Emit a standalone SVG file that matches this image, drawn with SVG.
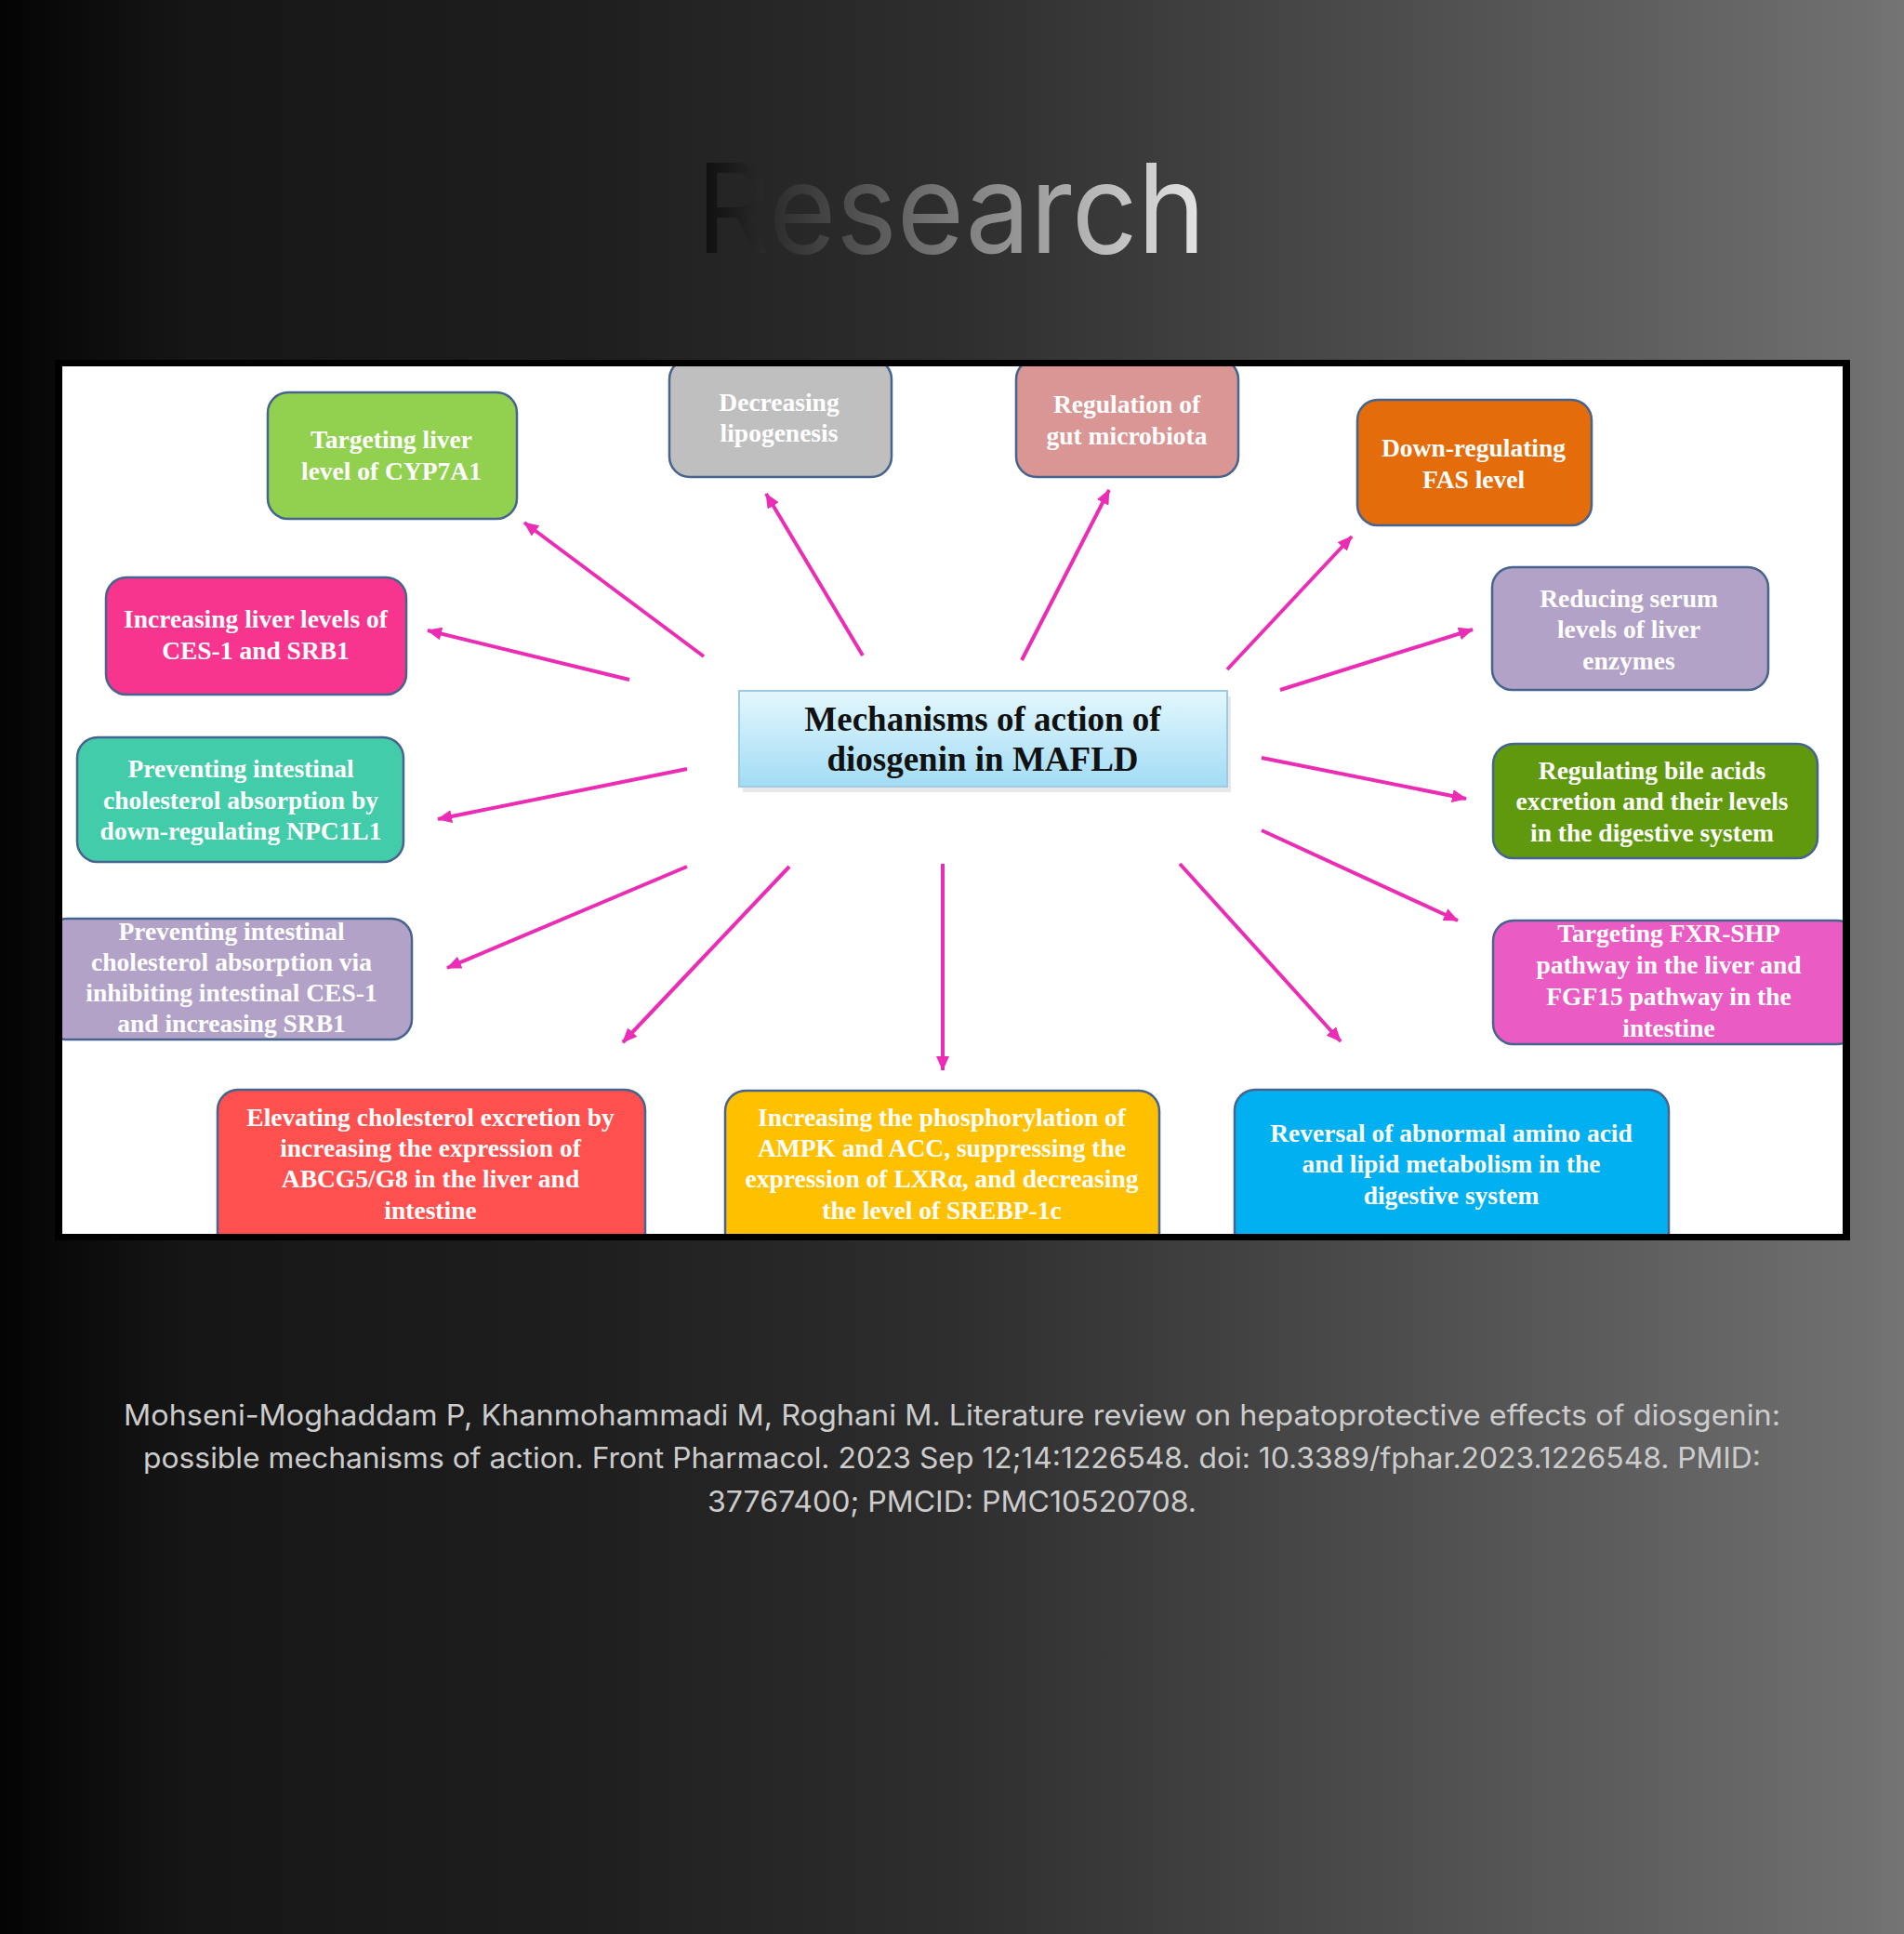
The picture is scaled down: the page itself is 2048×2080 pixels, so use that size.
<svg xmlns="http://www.w3.org/2000/svg" width="2048" height="2080" viewBox="0 0 2048 2080">
<defs>
<linearGradient id="bg" x1="0" y1="0" x2="1" y2="0">
<stop offset="0" stop-color="#040404"/>
<stop offset="0.1" stop-color="#161616"/>
<stop offset="0.3" stop-color="#1e1e1e"/>
<stop offset="0.5" stop-color="#2e2e2e"/>
<stop offset="0.75" stop-color="#4f4f4f"/>
<stop offset="0.97" stop-color="#6e6e6e"/>
<stop offset="1" stop-color="#747474"/>
</linearGradient>
<linearGradient id="title" x1="749" y1="0" x2="1297" y2="0" gradientUnits="userSpaceOnUse">
<stop offset="0" stop-color="#0c0c0c"/>
<stop offset="0.5" stop-color="#7a7a7a"/>
<stop offset="1" stop-color="#e6e6e6"/>
</linearGradient>
<linearGradient id="center" x1="0" y1="0" x2="0" y2="1">
<stop offset="0" stop-color="#E3F7FD"/>
<stop offset="1" stop-color="#A2DCF4"/>
</linearGradient>
<clipPath id="panel"><rect x="67" y="394" width="1915" height="933"/></clipPath>
<marker id="ah" markerUnits="userSpaceOnUse" markerWidth="18" markerHeight="14" refX="15" refY="7" orient="auto">
<path d="M0,0 L16,7 L0,14 Z" fill="#EB2DB5"/>
</marker>
</defs>
<style>
.box{stroke:#46648E;stroke-width:2.5}
.t{font-family:"Liberation Serif","Times New Roman",serif;font-weight:bold;font-size:27.5px;fill:#ffffff;text-anchor:middle}
.c{font-family:"Liberation Serif","Times New Roman",serif;font-weight:bold;font-size:37px;fill:#111111;text-anchor:middle}
.arr{stroke:#EB2DB5;stroke-width:4;fill:none;marker-end:url(#ah)}
.cite{font-family:Inter,"Liberation Sans",sans-serif;font-size:31px;fill:#cccccc;text-anchor:middle}
</style>
<rect x="0" y="0" width="2048" height="2080" fill="url(#bg)"/>
<text x="1023" y="272" font-family="Inter,'Liberation Sans',sans-serif" font-size="133" text-anchor="middle" textLength="548" lengthAdjust="spacingAndGlyphs" fill="url(#title)">Research</text>

<rect x="59" y="387" width="1931" height="947" fill="#000000"/>
<rect x="67" y="394" width="1915" height="933" fill="#ffffff"/>

<g clip-path="url(#panel)">
<g id="connectors">
<line class="arr" x1="757" y1="706" x2="564" y2="562"/>
<line class="arr" x1="677" y1="731" x2="460" y2="678"/>
<line class="arr" x1="928" y1="705" x2="824" y2="531"/>
<line class="arr" x1="1099" y1="710" x2="1193" y2="527"/>
<line class="arr" x1="1320" y1="720" x2="1454" y2="577"/>
<line class="arr" x1="1377" y1="742" x2="1584" y2="677"/>
<line class="arr" x1="1357" y1="815" x2="1577" y2="859"/>
<line class="arr" x1="1357" y1="893" x2="1568" y2="990"/>
<line class="arr" x1="1269" y1="929" x2="1442" y2="1120"/>
<line class="arr" x1="1014" y1="929" x2="1014" y2="1151"/>
<line class="arr" x1="849" y1="932" x2="670" y2="1121"/>
<line class="arr" x1="739" y1="932" x2="481" y2="1041"/>
<line class="arr" x1="739" y1="827" x2="471" y2="881"/>
</g>

<g id="node-center">
<rect x="799" y="749" width="525" height="103" fill="#d8d8d8" opacity="0.6"/>
<rect x="795" y="743" width="525" height="103" fill="url(#center)" stroke="#9CCBE2" stroke-width="2"/>
<text class="c" x="1057" y="786">Mechanisms of action of</text>
<text class="c" x="1057" y="829">diosgenin in MAFLD</text>
</g>

<g id="node-cyp7a1">
<rect class="box" x="288" y="422" width="268" height="136" rx="22" fill="#92D050"/>
<text class="t" x="421" y="482">Targeting liver</text>
<text class="t" x="421" y="516">level of CYP7A1</text>
</g>

<g id="node-ces1-srb1">
<rect class="box" x="114" y="621" width="323" height="126" rx="22" fill="#F7358F"/>
<text class="t" x="275" y="675">Increasing liver levels of</text>
<text class="t" x="275" y="709">CES-1 and SRB1</text>
</g>

<g id="node-lipogenesis">
<rect class="box" x="720" y="386" width="239" height="127" rx="22" fill="#BFBFBF"/>
<text class="t" x="838" y="442">Decreasing</text>
<text class="t" x="838" y="475">lipogenesis</text>
</g>

<g id="node-microbiota">
<rect class="box" x="1093" y="386" width="239" height="127" rx="22" fill="#D99694"/>
<text class="t" x="1212" y="444">Regulation of</text>
<text class="t" x="1212" y="478">gut microbiota</text>
</g>

<g id="node-fas">
<rect class="box" x="1460" y="430" width="252" height="135" rx="22" fill="#E46C0A"/>
<text class="t" x="1585" y="491">Down-regulating</text>
<text class="t" x="1585" y="525">FAS level</text>
</g>

<g id="node-enzymes">
<rect class="box" x="1605" y="610" width="297" height="132" rx="22" fill="#B3A2C7"/>
<text class="t" x="1752" y="653">Reducing serum</text>
<text class="t" x="1752" y="686">levels of liver</text>
<text class="t" x="1752" y="720">enzymes</text>
</g>

<g id="node-npc1l1">
<rect class="box" x="83" y="793" width="351" height="134" rx="22" fill="#43CCA9"/>
<text class="t" x="259" y="836">Preventing intestinal</text>
<text class="t" x="259" y="870">cholesterol absorption  by</text>
<text class="t" x="259" y="903">down-regulating  NPC1L1</text>
</g>

<g id="node-ces1-intestinal">
<rect class="box" x="50" y="988" width="393" height="130" rx="22" fill="#B3A2C7"/>
<text class="t" x="249" y="1011">Preventing  intestinal</text>
<text class="t" x="249" y="1044">cholesterol absorption  via</text>
<text class="t" x="249" y="1077">inhibiting  intestinal CES-1</text>
<text class="t" x="249" y="1110">and increasing SRB1</text>
</g>

<g id="node-bile">
<rect class="box" x="1606" y="800" width="349" height="123" rx="22" fill="#61990E"/>
<text class="t" x="1777" y="838">Regulating bile  acids</text>
<text class="t" x="1777" y="871">excretion and their levels</text>
<text class="t" x="1777" y="905">in the digestive system</text>
</g>

<g id="node-fxr">
<rect class="box" x="1606" y="990" width="392" height="133" rx="22" fill="#EA5BC3"/>
<text class="t" x="1795" y="1013">Targeting FXR-SHP</text>
<text class="t" x="1795" y="1047">pathway  in the liver and</text>
<text class="t" x="1795" y="1081">FGF15 pathway  in the</text>
<text class="t" x="1795" y="1115">intestine</text>
</g>

<g id="node-abcg5">
<rect class="box" x="234" y="1172" width="460" height="180" rx="22" fill="#FF5050"/>
<text class="t" x="463" y="1211">Elevating cholesterol excretion by</text>
<text class="t" x="463" y="1244">increasing the expression of</text>
<text class="t" x="463" y="1277">ABCG5/G8 in the liver and</text>
<text class="t" x="463" y="1311">intestine</text>
</g>

<g id="node-ampk">
<rect class="box" x="780" y="1173" width="467" height="180" rx="22" fill="#FFC000"/>
<text class="t" x="1013" y="1211">Increasing the phosphorylation  of</text>
<text class="t" x="1013" y="1244">AMPK and ACC, suppressing the</text>
<text class="t" x="1013" y="1277">expression of LXRα, and  decreasing</text>
<text class="t" x="1013" y="1311">the level of SREBP-1c</text>
</g>

<g id="node-amino">
<rect class="box" x="1328" y="1172" width="467" height="180" rx="22" fill="#00B0F0"/>
<text class="t" x="1561" y="1228">Reversal of abnormal  amino  acid</text>
<text class="t" x="1561" y="1261">and lipid  metabolism  in the</text>
<text class="t" x="1561" y="1295">digestive system</text>
</g>
</g>

<text class="cite" x="1024" y="1533" textLength="1782" lengthAdjust="spacingAndGlyphs">Mohseni-Moghaddam P, Khanmohammadi M, Roghani M. Literature review on hepatoprotective effects of diosgenin:</text>
<text class="cite" x="1024" y="1579" textLength="1740" lengthAdjust="spacingAndGlyphs">possible mechanisms of action. Front Pharmacol. 2023 Sep 12;14:1226548. doi: 10.3389/fphar.2023.1226548. PMID:</text>
<text class="cite" x="1024" y="1626" textLength="526" lengthAdjust="spacingAndGlyphs">37767400; PMCID: PMC10520708.</text>
</svg>
